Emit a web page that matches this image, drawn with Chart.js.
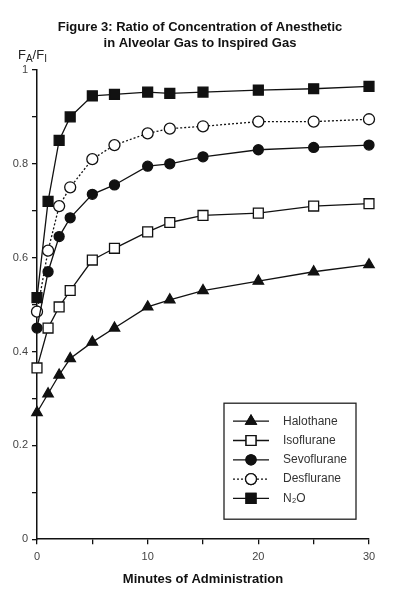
<!DOCTYPE html>
<html>
<head>
<meta charset="utf-8">
<script src="https://cdn.jsdelivr.net/npm/chart.js"></script>
<style>
  body { margin: 0; background: #fff; }
</style>
</head>
<body>
<canvas id="ratioChart" width="400" height="591"></canvas>
<script>
const minutes = [0, 1, 2, 3, 5, 7, 10, 12, 15, 20, 25, 30];
const halothane = [0.27, 0.31, 0.35, 0.385, 0.42, 0.45, 0.495, 0.51, 0.53, 0.55, 0.57, 0.585];
const isoflurane = [0.365, 0.45, 0.495, 0.53, 0.595, 0.62, 0.655, 0.675, 0.69, 0.695, 0.71, 0.715];
const sevoflurane = [0.45, 0.57, 0.645, 0.685, 0.735, 0.755, 0.795, 0.80, 0.815, 0.83, 0.835, 0.84];
const desflurane = [0.485, 0.615, 0.71, 0.75, 0.81, 0.84, 0.865, 0.875, 0.88, 0.89, 0.89, 0.895];
const nitrousOxide = [0.515, 0.72, 0.85, 0.90, 0.945, 0.948, 0.953, 0.95, 0.953, 0.957, 0.96, 0.965];

const seriesNames = ["Halothane", "Isoflurane", "Sevoflurane", "Desflurane", "N\u2082O"];
const yTickLabels = ["0", "0.2", "0.4", "0.6", "0.8", "1"];
const xTickLabels = ["0", "10", "20", "30"];

const sans = "'Liberation Sans', Arial, sans-serif";

const toPoints = (vals) => vals.map((v, i) => ({ x: minutes[i], y: v }));

const makeSet = (label, vals, style, fill, radius, dash) => ({
  label: label,
  data: toPoints(vals),
  borderColor: "#111",
  borderWidth: 1.3,
  borderDash: dash || [],
  pointStyle: style,
  pointRadius: radius,
  pointBackgroundColor: fill,
  pointBorderColor: "#111",
  pointBorderWidth: 1.3,
  tension: 0,
  clip: false,
});

// y axis title F_A / F_I with subscripts
const fractionLabel = {
  id: "fractionLabel",
  afterDraw(chart) {
    const ctx = chart.ctx;
    const parts = [["F", 0], ["A", 1], ["/", 0], ["F", 0], ["I", 1]];
    let x = chart.chartArea.left - 19;
    const y = chart.chartArea.top - 11;
    ctx.save();
    ctx.fillStyle = "#222";
    ctx.textBaseline = "alphabetic";
    parts.forEach((p) => {
      ctx.font = p[1] ? "10px " + sans : "13px " + sans;
      ctx.fillText(p[0], x, y + (p[1] ? 3 : 0));
      x += ctx.measureText(p[0]).width;
    });
    ctx.restore();
  },
};

// boxed legend inside the plot, like the figure
const boxLegend = {
  id: "boxLegend",
  afterDraw(chart) {
    const ctx = chart.ctx;
    const area = chart.chartArea;
    const right = area.right - 13;
    const bottom = area.bottom - 20;
    const left = right - 132;
    const top = bottom - 116;
    ctx.save();
    ctx.strokeStyle = "#222";
    ctx.lineWidth = 1.3;
    ctx.strokeRect(left, top, right - left, bottom - top);

    chart.data.datasets.forEach((ds, i) => {
      const y = top + 18 + i * 19.3;
      const cx = left + 27;
      ctx.strokeStyle = "#111";
      ctx.lineWidth = 1.3;
      ctx.setLineDash(ds.borderDash);
      ctx.beginPath();
      ctx.moveTo(left + 9, y);
      ctx.lineTo(left + 45, y);
      ctx.stroke();
      ctx.setLineDash([]);
      Chart.helpers.drawPoint(ctx, {
        pointStyle: ds.pointStyle,
        radius: ds.pointRadius,
        borderWidth: 1.3,
        rotation: 0,
      }, cx, y);
      ctx.fillStyle = ds.pointBackgroundColor;
      ctx.fill();
      ctx.stroke();
      ctx.fillStyle = "#333";
      ctx.font = "12px " + sans;
      ctx.textBaseline = "middle";
      ctx.fillText(seriesNames[i], left + 59, y);
    });
    ctx.restore();
  },
};

new Chart(document.getElementById("ratioChart"), {
  type: "line",
  data: {
    datasets: [
      makeSet(seriesNames[0], halothane, "triangle", "#111", 6),
      makeSet(seriesNames[1], isoflurane, "rect", "#fff", 7),
      makeSet(seriesNames[2], sevoflurane, "circle", "#111", 5),
      makeSet(seriesNames[3], desflurane, "circle", "#fff", 5.5, [2, 2]),
      makeSet(seriesNames[4], nitrousOxide, "rect", "#111", 7),
    ],
  },
  options: {
    responsive: false,
    animation: false,
    layout: { padding: { left: 0, right: 0, top: 0, bottom: 1 } },
    plugins: {
      legend: { display: false },
      tooltip: { enabled: false },
      title: {
        display: true,
        text: ["Figure 3: Ratio of Concentration of Anesthetic", "in Alveolar Gas to Inspired Gas"],
        color: "#111",
        font: { family: sans, size: 13, weight: "bold", lineHeight: 1.25 },
        padding: { top: 19, bottom: 18.5 },
      },
    },
    scales: {
      x: {
        type: "linear",
        min: 0,
        max: 30,
        afterBuildTicks: (scale) => {
          scale.ticks = [0, 5, 10, 15, 20, 25, 30].map((v) => ({ value: v }));
        },
        border: { display: true, color: "#111", width: 1.5 },
        grid: { drawOnChartArea: false, drawTicks: true, tickLength: 5, color: "#111", lineWidth: 1.3 },
        ticks: {
          color: "#444",
          padding: 6,
          maxRotation: 0,
          font: { family: sans, size: 11 },
          callback: (v) => (v % 10 === 0 ? xTickLabels[v / 10] : ""),
        },
        title: {
          display: true,
          text: "Minutes of Administration",
          color: "#111",
          font: { family: sans, size: 13, weight: "bold" },
          padding: { top: 2, bottom: 3 },
        },
      },
      y: {
        min: 0,
        max: 1,
        afterBuildTicks: (scale) => {
          scale.ticks = [0, 0.1, 0.2, 0.3, 0.4, 0.5, 0.6, 0.7, 0.8, 0.9, 1].map((v) => ({ value: v }));
        },
        afterFit: (scale) => {
          scale.width = 37;
        },
        border: { display: true, color: "#111", width: 1.5 },
        grid: { drawOnChartArea: false, drawTicks: true, tickLength: 5, color: "#111", lineWidth: 1.3 },
        ticks: {
          color: "#444",
          padding: 4,
          font: { family: sans, size: 11 },
          callback: (v) => {
            const k = Math.round(v * 10);
            return k % 2 === 0 ? yTickLabels[k / 2] : "";
          },
        },
      },
      // empty right-hand axis, only to hold the right margin
      spacer: {
        position: "right",
        display: true,
        grid: { display: false },
        border: { display: false },
        ticks: { display: false },
        afterFit: (scale) => {
          scale.width = 31;
        },
      },
    },
  },
  plugins: [fractionLabel, boxLegend],
});
</script>
</body>
</html>
